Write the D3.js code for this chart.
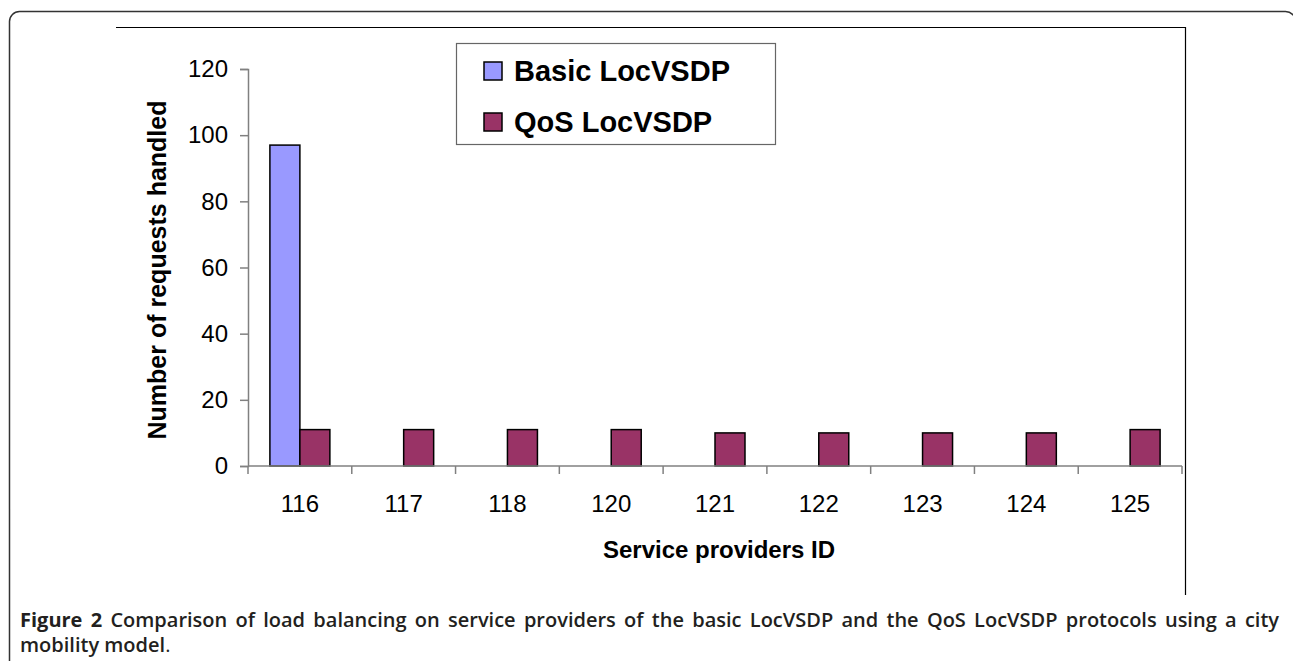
<!DOCTYPE html>
<html>
<head>
<meta charset="utf-8">
<script src="https://cdn.jsdelivr.net/npm/d3@7"></script>
<style>
  html, body { margin: 0; padding: 0; background: #fff; }
  svg { display: block; }
</style>
</head>
<body>
<svg id="chart" width="1293" height="661"></svg>
<script>
// ---- data ----
const categories = ["116", "117", "118", "120", "121", "122", "123", "124", "125"];
const seriesNames = ["Basic LocVSDP", "QoS LocVSDP"];
const basicValues = [97, null, null, null, null, null, null, null, null];
const qosValues = [11, 11, 11, 11, 10, 10, 10, 10, 11];
const yTicks = [0, 20, 40, 60, 80, 100, 120];
const xTitle = "Service providers ID";
const yTitle = "Number of requests handled";
const captionBold = "Figure 2";
const captionLine1 = "Comparison of load balancing on service providers of the basic LocVSDP and the QoS LocVSDP protocols using a city";
const captionLine2 = "mobility model";

const colors = { "Basic LocVSDP": "#9999FF", "QoS LocVSDP": "#993366" };

const svg = d3.select("#chart");

// outer rounded frame
svg.append("rect")
  .attr("x", 9.5).attr("y", 11.5)
  .attr("width", 1286).attr("height", 700)
  .attr("rx", 10).attr("ry", 10)
  .attr("fill", "none").attr("stroke", "#333").attr("stroke-width", 1.5);

// chart area frame (top and right lines)
svg.append("path")
  .attr("d", "M116,27.5 H1185.5 V595")
  .attr("fill", "none").attr("stroke", "#000").attr("stroke-width", 1.2);

// ---- scales ----
const x = d3.scaleBand().domain(categories).range([248, 1182]).padding(0);
const x1 = d3.scaleBand().domain(seriesNames).range([0, x.bandwidth()]).paddingInner(0).paddingOuter(0.73);
const y = d3.scaleLinear().domain([0, 120]).range([466, 69]);

const axisColor = "#808080";
const tickFont = "'Liberation Sans', Arial, sans-serif";

// y axis
const yAxis = svg.append("g").attr("transform", "translate(248,0)")
  .call(d3.axisLeft(y).tickValues(yTicks).tickSize(8).tickPadding(12));
yAxis.select(".domain").attr("stroke", axisColor).attr("stroke-width", 1.5);
yAxis.selectAll(".tick line").attr("stroke", axisColor).attr("stroke-width", 1.5);
yAxis.selectAll(".tick text").attr("fill", "#000")
  .style("font-family", tickFont).style("font-size", "24px");

// bars
const data = [];
categories.forEach((c, i) => {
  data.push({ cat: c, series: "Basic LocVSDP", value: basicValues[i] });
  data.push({ cat: c, series: "QoS LocVSDP", value: qosValues[i] });
});
svg.append("g").selectAll("rect")
  .data(data.filter(d => d.value != null))
  .join("rect")
  .attr("x", d => x(d.cat) + x1(d.series))
  .attr("y", d => y(d.value))
  .attr("width", x1.bandwidth())
  .attr("height", d => y(0) - y(d.value))
  .attr("fill", d => colors[d.series])
  .attr("stroke", "#000").attr("stroke-width", 1.5);

// x axis (ticks at band boundaries)
const xAxisG = svg.append("g").attr("transform", "translate(0,466)");
xAxisG.append("line")
  .attr("x1", x.range()[0]).attr("x2", x.range()[1])
  .attr("stroke", axisColor).attr("stroke-width", 1.5);
const boundaries = categories.map(c => x(c)).concat([x(categories[categories.length - 1]) + x.bandwidth()]);
xAxisG.selectAll("line.tk").data(boundaries).join("line").attr("class", "tk")
  .attr("x1", d => d).attr("x2", d => d).attr("y1", 0).attr("y2", 8)
  .attr("stroke", axisColor).attr("stroke-width", 1.5);
xAxisG.selectAll("text").data(categories).join("text")
  .attr("x", d => x(d) + x.bandwidth() / 2)
  .attr("y", 46)
  .attr("text-anchor", "middle")
  .style("font-family", tickFont).style("font-size", "24px")
  .text(d => d);

// axis titles
svg.append("text")
  .attr("x", 719).attr("y", 558)
  .attr("text-anchor", "middle")
  .style("font-family", tickFont).style("font-size", "24px").style("font-weight", "bold")
  .text(xTitle);
svg.append("text")
  .attr("transform", "translate(166,270) rotate(-90)")
  .attr("text-anchor", "middle")
  .style("font-family", tickFont).style("font-size", "25px").style("font-weight", "bold")
  .text(yTitle);

// legend
const legend = svg.append("g");
legend.append("rect")
  .attr("x", 456.5).attr("y", 43.5).attr("width", 319).attr("height", 101)
  .attr("fill", "#fff").attr("stroke", "#666").attr("stroke-width", 1.2);
const legendBaselines = [81, 132];
seriesNames.forEach((s, i) => {
  legend.append("rect")
    .attr("x", 484).attr("y", legendBaselines[i] - 19).attr("width", 18).attr("height", 18)
    .attr("fill", colors[s]).attr("stroke", "#000").attr("stroke-width", 1.5);
  legend.append("text")
    .attr("x", 514).attr("y", legendBaselines[i])
    .style("font-family", tickFont).style("font-size", "29px").style("font-weight", "bold")
    .text(s);
});

// caption: line 1 justified word by word
const capFont = "'Open Sans', 'Noto Sans', sans-serif";
const capSize = 20;
const capLeft = 20, capRight = 1279;
const capG = svg.append("g").attr("fill", "#231f20")
  .style("font-family", capFont).style("font-size", capSize + "px");
const words = [
  { t: "Figure", w: 700 }, { t: "2", w: 700 }
].concat(captionLine1.split(" ").map(t => ({ t, w: 600 })));
const wordNodes = capG.selectAll("text.w").data(words).join("text").attr("class", "w")
  .attr("y", 627)
  .style("font-weight", d => d.w)
  .text(d => d.t);
const widths = wordNodes.nodes().map(n => n.getComputedTextLength());
const totalW = d3.sum(widths);
const gap = (capRight - capLeft - totalW) / (words.length - 1);
let cx = capLeft;
wordNodes.attr("x", (d, i) => { const v = cx; cx += widths[i] + gap; return v; });

const cap2 = capG.append("text").attr("x", capLeft).attr("y", 652);
cap2.append("tspan").style("font-weight", "600").text(captionLine2);
cap2.append("tspan").style("font-weight", "400").text(".");
</script>
</body>
</html>
